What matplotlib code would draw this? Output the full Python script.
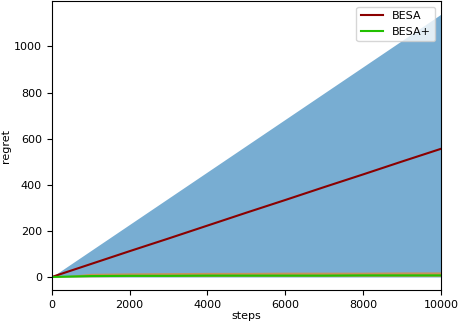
import matplotlib
matplotlib.use('Agg')
import matplotlib.pyplot as plt

# Steps at which regret was recorded
steps = [0, 1000, 2000, 3000, 4000, 5000, 6000, 7000, 8000, 9000, 10000]

# BESA: mean regret and band limits
besa_mean = [0, 56, 112, 167, 223, 279, 334, 390, 445, 501, 556]
besa_low = [0, 0, 0, 0, 0, 0, 0, 0, 0, 0, 0]
besa_high = [0, 114, 228, 342, 456, 570, 684, 798, 912, 1026, 1140]

# BESA+: mean regret and band limits
besa_plus_mean = [0, 4, 5, 5, 6, 6, 6, 6, 7, 7, 7]
besa_plus_low = [0, 1, 2, 2, 2, 3, 3, 3, 3, 3, 3]
besa_plus_high = [0, 16, 18, 19, 20, 20, 21, 21, 21, 22, 22]


def main():
    """Draw the regret curves and save the figure."""
    plt.rcParams['font.size'] = 8
    fig, ax = plt.subplots(figsize=(4.58, 3.26), dpi=100)

    # Bands first, lines on top
    ax.fill_between(steps, besa_low, besa_high, color='C0', alpha=0.6, linewidth=0)
    ax.fill_between(steps, besa_plus_low, besa_plus_high, color='C1', alpha=0.6, linewidth=0)
    ax.plot(steps, besa_mean, color='#8b0000', linewidth=1.5, label='BESA')
    ax.plot(steps, besa_plus_mean, color='#22c000', linewidth=1.5, label='BESA+')

    ax.set_xlim(0, 10000)
    ax.set_ylim(-57, 1197)
    ax.set_xlabel('steps', labelpad=1)
    ax.set_ylabel('regret', labelpad=2)
    ax.legend(loc='upper right', fontsize=8)

    fig.subplots_adjust(left=0.113, right=0.963, top=0.997, bottom=0.11)
    fig.savefig('out.png')


if __name__ == "__main__":
    main()
